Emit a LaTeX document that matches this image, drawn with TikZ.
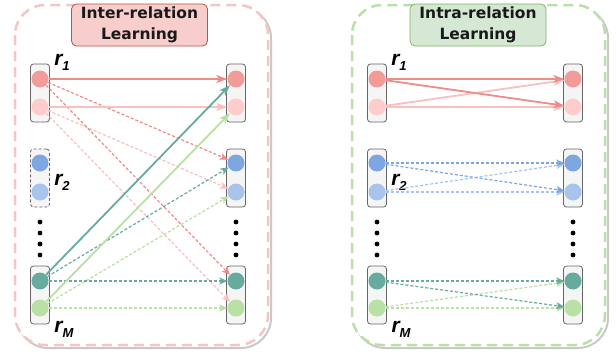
\documentclass[tikz,border=0pt]{standalone}
\usepackage{fontspec}
\setmainfont{DejaVu Sans}
\newfontfamily\labfont{Liberation Sans}
\usetikzlibrary{arrows.meta}

\definecolor{redA}{HTML}{F19C99}
\definecolor{redB}{HTML}{FFCCCC}
\definecolor{blueA}{HTML}{7EA6E0}
\definecolor{blueB}{HTML}{A9C4EB}
\definecolor{tealA}{HTML}{67AB9F}
\definecolor{greenB}{HTML}{B9E0A5}
\definecolor{redArr}{HTML}{EE8C89}
\definecolor{pinkArr}{HTML}{F9C0C0}
\definecolor{boxfill}{HTML}{F5F5F5}
\definecolor{boxline}{HTML}{666666}
\definecolor{pinkfill}{HTML}{F8CECC}
\definecolor{pinkline}{HTML}{B85450}
\definecolor{greenfill}{HTML}{D5E8D4}
\definecolor{greenline}{HTML}{82B366}
\definecolor{pinkdash}{HTML}{F6C4C4}
\definecolor{greendash}{HTML}{B9E0A5}

\newcommand{\rlab}[1]{{\labfont\bfseries\itshape\fontsize{21}{21}\selectfont r\raisebox{-5pt}{\fontsize{13}{13}\selectfont #1}}}

\begin{document}
\begin{tikzpicture}[x=1pt,y=-1pt]
\tikzstyle{frame} = [line width=2.5pt, rounded corners=30pt, dash pattern=on 10pt off 6pt]
\tikzstyle{shade} = [line width=2pt, rounded corners=30pt, draw=black!30, opacity=0.7]
\tikzstyle{title} = [rounded corners=5pt, line width=0.8pt, minimum width=136pt, minimum height=42pt, align=center, inner sep=0pt, text=black!90, font=\bfseries\fontsize{15.5}{20.5}\selectfont]
\tikzstyle{group} = [draw=boxline, fill=boxfill, rounded corners=3pt, minimum width=19pt, minimum height=58pt, inner sep=0pt, line width=0.8pt]
\tikzstyle{ent} = [circle, minimum size=17pt, inner sep=0pt]
\tikzstyle{rname} = [inner sep=0pt]
\tikzstyle{fullarr} = [line width=1.8pt, -{Stealth[length=11pt,width=8pt,inset=3pt]}]
\tikzstyle{dasharr} = [line width=1.2pt, dash pattern=on 3pt off 2pt, -{Stealth[length=8pt,width=7pt,inset=2pt]}]
\useasboundingbox (0,0) rectangle (616,356);

% the two frames
\draw[shade] (18,8) rectangle (271,348);
\draw[frame, draw=pinkdash, fill=white] (15,5) rectangle (268,345);
\draw[shade] (355,8) rectangle (608,348);
\draw[frame, draw=greendash, fill=white] (352,5) rectangle (605,345);
\node[title, fill=pinkfill, draw=pinkline] (tinter) at (139.5,25) {Inter-relation\\Learning};
\node[title, fill=greenfill, draw=greenline] (tintra) at (478,25) {Intra-relation\\Learning};

% relation groups
\foreach \p/\dx/\bs in {A/0/densely dashed,B/337/solid}{
  \node[group] (\p-g1) at (40+\dx,93) {};
  \node[group,\bs] (\p-g2) at (40+\dx,178) {};
  \node[group] (\p-gM) at (40+\dx,295) {};
  \node[group] (\p-h1) at (236+\dx,93) {};
  \node[group] (\p-h2) at (236+\dx,178) {};
  \node[group] (\p-hM) at (236+\dx,295) {};
  \node[ent, fill=redA] (\p-L1a) at (40+\dx,79) {};
  \node[ent, fill=redB] (\p-L1b) at (40+\dx,107) {};
  \node[ent, fill=blueA] (\p-L2a) at (40+\dx,163) {};
  \node[ent, fill=blueB] (\p-L2b) at (40+\dx,192) {};
  \node[ent, fill=tealA] (\p-LMa) at (40+\dx,281) {};
  \node[ent, fill=greenB] (\p-LMb) at (40+\dx,308) {};
  \node[ent, fill=redA] (\p-R1a) at (236+\dx,79) {};
  \node[ent, fill=redB] (\p-R1b) at (236+\dx,107) {};
  \node[ent, fill=blueA] (\p-R2a) at (236+\dx,163) {};
  \node[ent, fill=blueB] (\p-R2b) at (236+\dx,192) {};
  \node[ent, fill=tealA] (\p-RMa) at (236+\dx,281) {};
  \node[ent, fill=greenB] (\p-RMb) at (236+\dx,308) {};
  \node[rname] (\p-n1) at (62+\dx,62) {\rlab{1}};
  \node[rname] (\p-n2) at (62+\dx,182) {\rlab{2}};
  \node[rname] (\p-nM) at (64+\dx,329) {\rlab{M}};
  \foreach \y in {222,233,244,255}{
    \fill (40+\dx,\y) circle (2.4pt);
    \fill (236+\dx,\y) circle (2.4pt);
  }
}

% inter-relation
\draw[dasharr, pinkArr] (A-L1b) -- (A-R2b);
\draw[dasharr, pinkArr] (A-L1b) -- (A-RMb);
\draw[dasharr, redArr] (A-L1a) -- (A-R2a);
\draw[dasharr, redArr] (A-L1a) -- (A-RMa);
\draw[dasharr, greenB] (A-LMb) -- (A-R2b);
\draw[dasharr, greenB] (A-LMb) -- (A-RMb);
\draw[dasharr, tealA] (A-LMa) -- (A-R2a);
\draw[dasharr, tealA] (A-LMa) -- (A-RMa);
\draw[fullarr, redArr] (A-L1a) -- (A-R1a);
\draw[fullarr, pinkArr] (A-L1b) -- (A-R1b);
\draw[fullarr, greenB] (A-LMb) -- (A-R1b);
\draw[fullarr, tealA] (A-LMa) -- (A-R1a);

% intra-relation
\draw[fullarr, pinkArr] (B-L1b) -- (B-R1a);
\draw[fullarr, pinkArr] (B-L1b) -- (B-R1b);
\draw[fullarr, redArr] (B-L1a) -- (B-R1a);
\draw[fullarr, redArr] (B-L1a) -- (B-R1b);
\draw[dasharr, blueB] (B-L2b) -- (B-R2a);
\draw[dasharr, blueB] (B-L2b) -- (B-R2b);
\draw[dasharr, blueA] (B-L2a) -- (B-R2a);
\draw[dasharr, blueA] (B-L2a) -- (B-R2b);
\draw[dasharr, greenB] (B-LMb) -- (B-RMa);
\draw[dasharr, greenB] (B-LMb) -- (B-RMb);
\draw[dasharr, tealA] (B-LMa) -- (B-RMa);
\draw[dasharr, tealA] (B-LMa) -- (B-RMb);
\end{tikzpicture}
\end{document}
